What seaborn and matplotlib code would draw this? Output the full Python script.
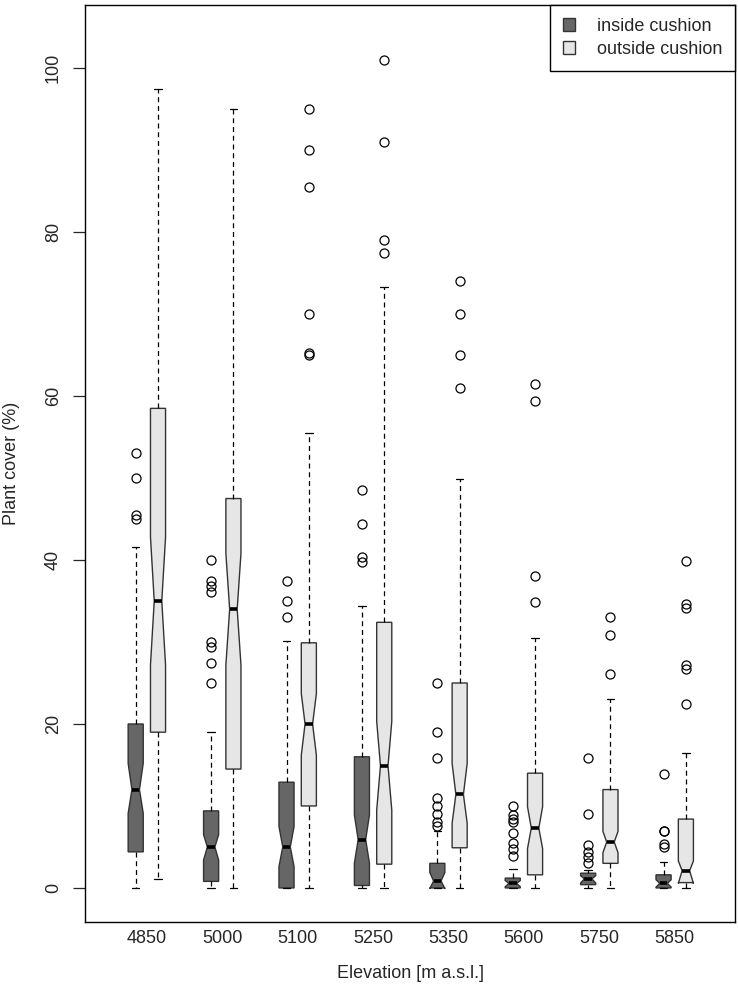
import matplotlib
matplotlib.use("Agg")
import matplotlib.pyplot as plt
import seaborn as sns
from matplotlib.patches import Patch

elevation = ["4850", "5000", "5100", "5250", "5350", "5600", "5750", "5850"]

# plant cover (%) inside cushion, box summaries
in_low = [0, 0, 0, 0, 0, 0, 0.05, 0]
in_q1 = [4.4, 0.8, 0, 0.3, 0, 0, 0.4, 0]
in_med = [12.0, 5.0, 5.0, 5.9, 0.85, 0.55, 1.1, 0.55]
in_q3 = [20.0, 9.4, 12.9, 16.0, 3.0, 1.2, 1.8, 1.6]
in_high = [41.6, 19.0, 30.1, 34.4, 7.0, 2.3, 2.2, 3.2]
in_cilo = [9.1, 3.4, 2.6, 3.0, -0.1, 0.15, 0.6, 0.1]
in_cihi = [15.2, 6.5, 7.5, 8.9, 1.9, 0.9, 1.5, 1.0]
in_fliers = [[53, 50, 45.5, 45],
             [40, 37.5, 36.8, 36.1, 30, 29.4, 27.4, 25],
             [37.4, 35, 33],
             [48.5, 44.4, 40.4, 39.8],
             [25, 19, 15.9, 11, 10, 9, 8.1, 7.6],
             [10, 8.9, 8.4, 8, 6.7, 5.5, 4.8, 3.9],
             [15.9, 9, 5.2, 4.4, 3.8, 3.0],
             [13.9, 7, 6.9, 5.4, 5]]

# plant cover (%) outside cushion
out_low = [1.1, 0, 0, 0, 0, 0, 0, 0]
out_q1 = [19.0, 14.5, 10.0, 2.9, 4.9, 1.6, 3.0, 0.65]
out_med = [35.0, 34.0, 20.0, 14.9, 11.4, 7.3, 5.6, 2.1]
out_q3 = [58.5, 47.5, 29.9, 32.4, 25.0, 14.0, 12.0, 8.4]
out_high = [97.4, 95.0, 55.5, 73.3, 49.9, 30.5, 23.0, 16.5]
out_cilo = [27.2, 27.2, 16.2, 9.5, 7.9, 4.8, 4.3, 0.55]
out_cihi = [42.8, 40.8, 23.7, 20.3, 15.2, 9.9, 6.9, 3.3]
out_fliers = [[],
              [],
              [95, 90, 85.5, 70, 65.2, 65],
              [101, 91, 79, 77.5],
              [74, 70, 65, 61],
              [61.5, 59.4, 38, 34.9],
              [33, 30.9, 26.1],
              [39.9, 34.6, 34.1, 27.2, 26.7, 22.4]]


def make_stats(lo, q1, med, q3, hi, cilo, cihi, fliers):
    stats = []
    for i in range(len(med)):
        stats.append({"whislo": lo[i], "q1": q1[i], "med": med[i], "q3": q3[i],
                      "whishi": hi[i], "cilo": cilo[i], "cihi": cihi[i],
                      "fliers": fliers[i]})
    return stats


sns.set_style("white")
plt.rcParams["font.family"] = ["Liberation Sans", "DejaVu Sans"]

fig = plt.figure(figsize=(7.38, 9.85), dpi=100)
ax = fig.add_axes([0.1152, 0.0640, 0.8808, 0.9309])

groups = [
    (make_stats(in_low, in_q1, in_med, in_q3, in_high, in_cilo, in_cihi, in_fliers), "#666666", -0.148),
    (make_stats(out_low, out_q1, out_med, out_q3, out_high, out_cilo, out_cihi, out_fliers), "#e6e6e6", 0.148),
]
for stats, color, off in groups:
    ax.bxp(stats, positions=[i + off for i in range(len(elevation))], widths=0.2,
           shownotches=True, patch_artist=True, manage_ticks=False, capwidths=0.1,
           boxprops=dict(facecolor=color, edgecolor="#333333", linewidth=1.0),
           whiskerprops=dict(color="black", linewidth=0.9, linestyle=(0, (4, 3))),
           capprops=dict(color="black", linewidth=0.9),
           medianprops=dict(color="black", linewidth=2.6, solid_capstyle="butt"),
           flierprops=dict(marker="o", markersize=6.5, markerfacecolor="none",
                           markeredgecolor="black", markeredgewidth=0.9))

ax.set_xlim(-0.82, 7.80)
ax.set_ylim(-4.15, 107.7)
ax.set_xticks(range(len(elevation)))
ax.set_xticklabels(elevation)
ax.set_yticks([0, 20, 40, 60, 80, 100])
ax.tick_params(axis="x", length=0, pad=6, labelsize=13)
ax.tick_params(axis="y", length=8.5, width=0.9, pad=8, labelsize=13, left=True)
for lab in ax.get_yticklabels():
    lab.set_rotation(90)
    lab.set_va("center")
ax.set_xlabel("Elevation [m a.s.l.]", fontsize=13, labelpad=13)
ax.set_ylabel("Plant cover (%)", fontsize=13, labelpad=18)
for sp in ax.spines.values():
    sp.set_color("black")
    sp.set_linewidth(1.0)

handles = [Patch(facecolor="#666666", edgecolor="#333333", label="inside cushion"),
           Patch(facecolor="#e6e6e6", edgecolor="#333333", label="outside cushion")]
leg = ax.legend(handles=handles, loc="upper right", borderaxespad=0, fontsize=13,
                frameon=True, fancybox=False, framealpha=1, edgecolor="black",
                handlelength=0.7, handleheight=0.7, handletextpad=1.2,
                borderpad=0.7, labelspacing=0.35)
leg.get_frame().set_linewidth(1.0)

fig.savefig("out.png", dpi=100)
